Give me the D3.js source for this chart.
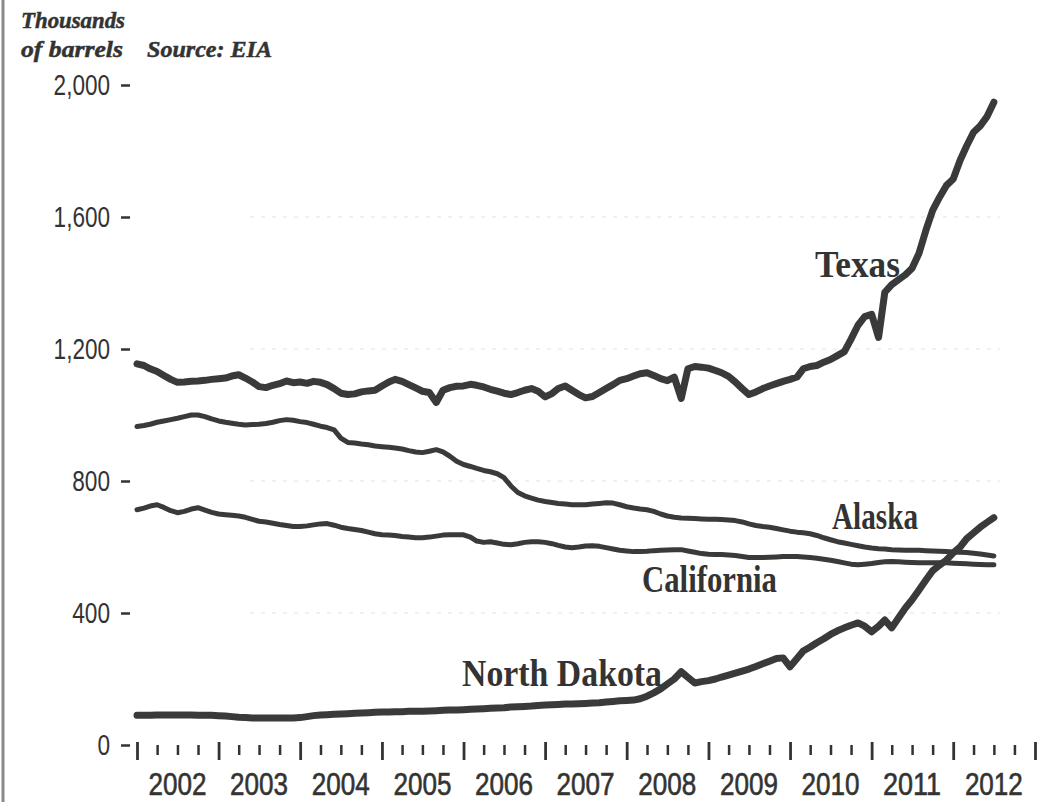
<!DOCTYPE html>
<html>
<head>
<meta charset="utf-8">
<script src="https://cdn.jsdelivr.net/npm/d3@7"></script>
<style>
  body { margin: 0; background: #fff; }
  svg text { fill: #333; }
  .axis path.domain { display: none; }
  .axis line { stroke: #333; }
</style>
</head>
<body>
<script>
// Monthly crude oil production by state, Jan 2002 - Jul 2012 (thousands of barrels/day)
var months = d3.timeMonth.range(new Date(2002, 0, 1), new Date(2012, 7, 1));

var texas = [
  1155, 1150, 1140, 1132, 1120, 1108, 1099, 1100, 1102, 1103, 1105, 1108,
  1110, 1112, 1118, 1122, 1112, 1100, 1086, 1083, 1090, 1095, 1103, 1098,
  1100, 1096, 1102, 1099, 1092, 1080, 1066, 1062, 1064, 1070, 1073, 1075,
  1088, 1100, 1108, 1102, 1092, 1082, 1072, 1068, 1038, 1075, 1083, 1087,
  1088, 1093, 1090, 1085, 1078, 1072, 1066, 1062, 1068, 1075, 1080, 1072,
  1055, 1065, 1080, 1088, 1075, 1062, 1052, 1056, 1068, 1080, 1092, 1105,
  1110, 1118, 1125, 1128, 1120, 1110, 1104, 1115, 1050, 1140, 1147, 1145,
  1142, 1135, 1128, 1117, 1100, 1080, 1062, 1070, 1080, 1088, 1095, 1102,
  1108, 1115, 1140, 1147, 1150, 1160, 1168, 1180, 1192, 1230, 1272, 1298,
  1305, 1235, 1372, 1395, 1410, 1425, 1445, 1490, 1560, 1620, 1660, 1695,
  1715, 1772, 1815, 1857, 1876, 1905, 1948
];

var alaska = [
  965, 968, 972, 978, 982, 986, 990, 995, 1000, 1000, 995, 988,
  982, 978, 975, 972, 970, 971, 972, 974, 978, 983, 986, 984,
  980, 977, 972, 966, 962, 955, 930, 917, 915, 912, 910, 906,
  904, 902, 900, 897, 892, 888, 886, 890, 895, 888, 875, 860,
  850, 844, 838, 832, 828, 822, 810, 785, 765, 755, 748, 742,
  738, 735, 732, 730, 728, 728, 728, 730, 732, 734, 733, 728,
  722, 718, 715, 713, 708, 700, 694, 690, 688, 687, 686, 685,
  684, 684, 683, 682, 680, 676, 670, 665, 662, 660, 656, 652,
  648, 645, 643, 640, 635, 628, 622, 616, 612, 608, 604, 600,
  597, 595, 594, 592, 591, 590, 590, 590, 589, 588, 587, 586,
  585, 584, 583, 581, 579, 576, 573
];

var california = [
  713, 718, 724, 728, 720, 710, 704, 708, 715, 719, 712, 705,
  700, 698, 696, 694, 690, 684, 678, 676, 672, 668, 665, 662,
  662, 664, 667, 670, 671, 666, 660, 656, 653, 650, 645, 640,
  637, 636, 635, 632, 630, 628, 628, 630, 633, 636, 637, 637,
  637, 630, 618, 614, 616, 612, 608, 607, 610, 614, 616, 616,
  614, 610, 605, 600, 598, 600, 603, 604, 602, 598, 594, 590,
  588, 586, 586, 587, 589, 590, 591, 592, 592, 588, 584, 580,
  578, 577, 577, 576, 574, 571, 568, 568, 568, 569, 570, 571,
  571, 571, 570, 568, 566, 563, 560, 556, 552, 548, 546, 548,
  550, 553, 555, 556, 555, 554, 553, 552, 552, 552, 552, 552,
  551, 550, 549, 548, 547, 546, 546
];

var northDakota = [
  90, 90, 90, 91, 91, 91, 91, 91, 91, 90, 90, 90,
  89, 88, 86, 84, 83, 82, 82, 82, 82, 82, 82, 82,
  83, 86, 89, 91, 92, 93, 94, 95, 96, 97, 98, 99,
  100, 100, 101, 101, 102, 102, 102, 103, 104, 105, 106, 106,
  107, 108, 109, 110, 111, 112, 113, 115, 116, 117, 118, 120,
  121, 122, 123, 124, 124, 125, 126, 127, 128, 130, 132, 134,
  135, 136, 140, 148, 158, 170, 185, 200, 222, 205, 188, 192,
  195, 200, 206, 212, 218, 224, 230, 238, 246, 254, 262, 264,
  237, 262, 285, 297, 310, 322, 335, 346, 355, 363, 370, 360,
  343, 360, 379, 355, 385, 415, 440, 470, 500, 528, 545, 560,
  582, 600, 625, 643, 660, 675, 689
];

var yTicks = [0, 400, 800, 1200, 1600, 2000];
var gridValues = [400, 800, 1200, 1600];
var yearLabels = [2002, 2003, 2004, 2005, 2006, 2007, 2008, 2009, 2010, 2011, 2012];

var width = 1047, height = 802;
var sans = "'Liberation Sans', Arial, sans-serif";
var serif = "'Liberation Serif', 'Times New Roman', serif";

var svg = d3.select("body").append("svg")
    .attr("width", width)
    .attr("height", height);

var x = d3.scaleTime()
    .domain([new Date(2002, 0, 1), new Date(2013, 0, 1)])
    .range([137, 1035]);
var y = d3.scaleLinear()
    .domain([0, 2000])
    .range([745, 85]);

// the narrow typeface is not installed, so squeeze the label widths instead
function narrowWidth(s) {
  return s.replace(/[^0-9]/g, "").length * 12.6 + (s.indexOf(",") >= 0 ? 6 : 0);
}

// left frame edge
svg.append("line")
    .attr("x1", 3).attr("x2", 3).attr("y1", 0).attr("y2", height)
    .style("stroke", "#8a8a8a").style("stroke-width", 3);

// very faint scan-like gridlines
svg.selectAll(".grid")
    .data(gridValues)
    .enter().append("line")
    .attr("class", "grid")
    .attr("x1", 250).attr("x2", 1000)
    .attr("y1", function(d) { return y(d); })
    .attr("y2", function(d) { return y(d); })
    .style("stroke", "#ededed")
    .style("stroke-width", 1.5)
    .style("stroke-dasharray", "4,7");

// y axis: labels with a little dash after them
var yAxis = svg.append("g")
    .attr("class", "axis")
    .attr("transform", "translate(130,0)")
    .call(d3.axisLeft(y).tickValues(yTicks).tickSize(9).tickPadding(11).tickFormat(d3.format(",")));
yAxis.selectAll("line").style("stroke-width", 2.5);
yAxis.selectAll("text")
    .attr("textLength", function() { return narrowWidth(this.textContent); })
    .attr("lengthAdjust", "spacingAndGlyphs")
    .style("font-family", sans)
    .style("font-size", "29px")
    .style("fill", "#333");

// x axis: year ticks and quarterly minor ticks
var majorAxis = svg.append("g")
    .attr("class", "axis")
    .attr("transform", "translate(0,742)")
    .call(d3.axisBottom(x).ticks(d3.timeYear.every(1)).tickSize(18).tickFormat(""));
majorAxis.selectAll("line").style("stroke-width", 2.8);

var quarters = d3.timeMonth.every(3).range(new Date(2002, 0, 1), new Date(2013, 0, 1))
    .filter(function(d) { return d.getMonth() !== 0; });
var minorAxis = svg.append("g")
    .attr("class", "axis")
    .attr("transform", "translate(0,745)")
    .call(d3.axisBottom(x).tickValues(quarters).tickSize(10).tickFormat(""));
minorAxis.selectAll("line").style("stroke-width", 2.5);

svg.selectAll(".year")
    .data(yearLabels)
    .enter().append("text")
    .attr("class", "year")
    .attr("x", function(d) { return x(new Date(d, 6, 1)) - 29; })
    .attr("y", 795)
    .attr("textLength", 58)
    .attr("lengthAdjust", "spacingAndGlyphs")
    .style("font-family", sans)
    .style("font-size", "31px")
    .style("stroke", "#333")
    .style("stroke-width", 0.6)
    .text(function(d) { return d; });

// lines
var series = [
  { name: "Texas", values: texas, w: 7 },
  { name: "Alaska", values: alaska, w: 5 },
  { name: "California", values: california, w: 5 },
  { name: "North Dakota", values: northDakota, w: 7 }
];

var line = d3.line()
    .x(function(d, i) { return x(months[i]); })
    .y(function(d) { return y(d); });

svg.selectAll(".series")
    .data(series)
    .enter().append("path")
    .attr("class", "series")
    .attr("d", function(d) { return line(d.values); })
    .style("fill", "none")
    .style("stroke", "#3a3a3a")
    .style("stroke-width", function(d) { return d.w; })
    .style("stroke-linejoin", "round")
    .style("stroke-linecap", "round");

// series labels
var labelSpots = {
  "Texas": [815, 277, 85],
  "Alaska": [832, 529, 86],
  "California": [642, 592, 135],
  "North Dakota": [462, 686, 200]
};
series.forEach(function(s) {
  var p = labelSpots[s.name];
  svg.append("text")
    .attr("x", p[0]).attr("y", p[1])
    .attr("textLength", p[2])
    .attr("lengthAdjust", "spacingAndGlyphs")
    .style("font-family", serif)
    .style("font-weight", "bold")
    .style("font-size", "37px")
    .text(s.name);
});

// header
function header(txt, x0, y0, len) {
  svg.append("text")
    .attr("x", x0).attr("y", y0)
    .attr("textLength", len)
    .attr("lengthAdjust", "spacingAndGlyphs")
    .style("font-family", serif)
    .style("font-weight", "bold")
    .style("font-style", "italic")
    .style("font-size", "24px")
    .style("stroke", "#333")
    .style("stroke-width", 0.5)
    .text(txt);
}
header("Thousands", 21, 28, 104);
header("of barrels", 21, 57, 102);
header("Source: EIA", 147, 57, 125);
</script>
</body>
</html>
